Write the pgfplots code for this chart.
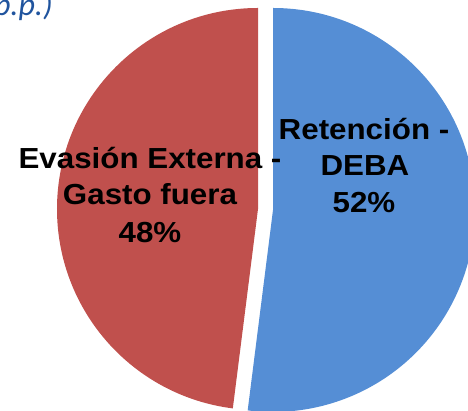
\documentclass[border=0pt]{standalone}
\usepackage{fontspec}
\setmainfont{Liberation Sans}
\newfontfamily\calib{Carlito}
\usepackage{graphicx}
\usepackage{pgfplots}
\usepackage{pgfplotstable}
\pgfplotsset{compat=1.18}
\definecolor{slblue}{RGB}{85,142,213}
\definecolor{slred}{RGB}{192,80,77}
\definecolor{ttlblue}{RGB}{32,84,158}

% share of each slice (percent)
\pgfplotstableread{
name value
Retencion 52
Evasion 48
}\piedata
\pgfplotstablegetelem{0}{value}\of\piedata \let\vblue\pgfplotsretval
\pgfplotstablegetelem{1}{value}\of\piedata \let\vred\pgfplotsretval
\pgfmathsetmacro\blueend{90-3.6*\vblue}
\pgfmathsetmacro\redend{90+3.6*\vred}

\begin{document}
\begin{tikzpicture}
\useasboundingbox (0,0) rectangle (468pt,411pt);
\clip (0,0) rectangle (468pt,411pt);
\begin{axis}[
  at={(0,0)}, anchor=south west,
  width=468pt, height=411pt, scale only axis,
  xmin=0, xmax=468, ymin=0, ymax=411,
  axis lines=none, clip=false,
]
% blue slice (exploded to the right)
\fill[slblue] (axis cs:273,201) -- ++(90:202pt) arc[start angle=90, end angle=\blueend, radius=202pt] -- cycle;
% red slice (exploded to the left)
\fill[slred] (axis cs:258,202) -- ++(90:201pt) arc[start angle=90, end angle=\redend, radius=201pt] -- cycle;

\begin{scope}[every node/.style={anchor=base, inner sep=0pt, font=\fontsize{29}{35}\selectfont\bfseries, text=black}]
\node at (axis cs:150,242) {\scalebox{1.08}[1]{Evasión Externa -}};
\node at (axis cs:150,206) {\scalebox{1.08}[1]{Gasto fuera}};
\node at (axis cs:150,168) {\scalebox{1.08}[1]{\vred\%}};
\node at (axis cs:364,271) {\scalebox{1.08}[1]{Retención -}};
\node at (axis cs:365,235) {\scalebox{1.08}[1]{DEBA}};
\node at (axis cs:364,198) {\scalebox{1.08}[1]{\vblue\%}};
\end{scope}
\node[anchor=base east, inner sep=0pt, text=ttlblue, font=\calib\itshape\fontsize{32}{36}\selectfont] at (axis cs:53,395) {(en p.p.)};
\end{axis}
\end{tikzpicture}
\end{document}
